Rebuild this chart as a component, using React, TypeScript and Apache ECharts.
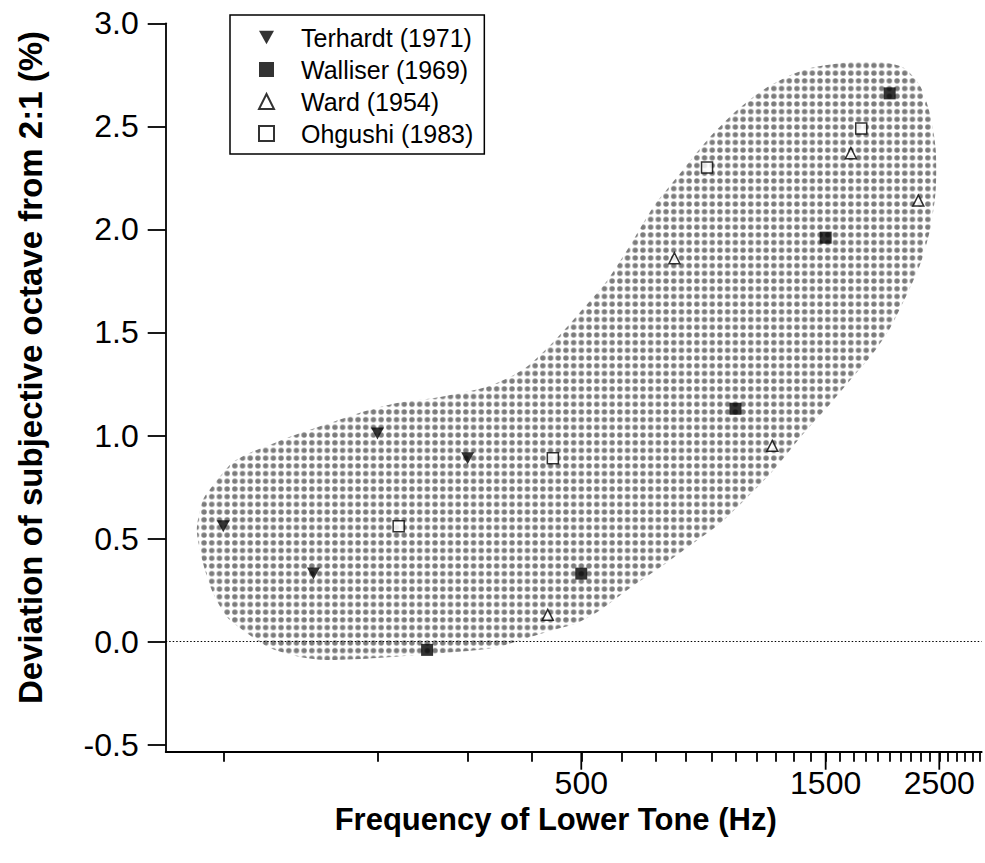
import { useEffect, useRef } from "react";
import * as echarts from "echarts";

// ---- data ----
const terhardtHz = [100, 150, 200, 300];
const terhardtDev = [0.56, 0.33, 1.01, 0.89];

const walliserHz = [250, 500, 1000, 1500, 2000];
const walliserDev = [-0.04, 0.33, 1.13, 1.96, 2.66];

const wardHz = [430, 760, 1180, 1680, 2275];
const wardDev = [0.13, 1.86, 0.95, 2.37, 2.14];

const ohgushiHz = [220, 440, 880, 1760];
const ohgushiDev = [0.56, 0.89, 2.3, 2.49];

// outline of the shaded region (Hz, deviation %)
const regionHz = [
  88.8, 91.3, 96.3, 104.0, 112.8, 127.3, 143.1, 163.9, 187.5, 218.5, 265.2, 332.0,
  388.6, 444.9, 498.0, 557.1, 615.0, 691.3, 770.1, 881.6, 1009, 1155, 1358, 1626, 1895,
  2130, 2299, 2405, 2460, 2460, 2405, 2299, 2168, 2009, 1895, 1811, 1656, 1513, 1340,
  1187, 1056, 934.8, 827.8, 713.6, 615.0, 544.8, 491.2, 455.0, 392.1, 336.6, 268.8,
  199.7, 159.5, 141.2, 123.4, 111.2, 101.7, 95.5, 91.3,
];
const regionDev = [
  0.542, 0.688, 0.77, 0.867, 0.916, 0.969, 1.017, 1.066, 1.115, 1.158, 1.187, 1.241,
  1.328, 1.464, 1.6, 1.74, 1.901, 2.109, 2.255, 2.434, 2.58, 2.691, 2.774, 2.808, 2.813,
  2.784, 2.691, 2.546, 2.386, 2.192, 2.012, 1.837, 1.692, 1.527, 1.43, 1.367, 1.255,
  1.139, 0.993, 0.833, 0.702, 0.576, 0.479, 0.362, 0.251, 0.154, 0.091, 0.066, 0.018,
  -0.031, -0.055, -0.079, -0.089, -0.074, -0.031, 0.042, 0.12, 0.236, 0.382,
];

// axes
const xMinHz = 77.2;
const xMaxHz = 3025;
const xTickHz = [
  100, 200, 300, 400, 500, 600, 700, 800, 900, 1000, 1100, 1200, 1300, 1400, 1500,
  1600, 1700, 1800, 1900, 2000, 2100, 2200, 2300, 2400, 2500, 2600, 2700, 2800, 2900, 3000,
];
const xLabelHz = [500, 1500, 2500];
const yMin = -0.534;
const yMax = 3.0;
const yTicks = [-0.5, 0, 0.5, 1.0, 1.5, 2.0, 2.5, 3.0];

const names = ["Terhardt (1971)", "Walliser (1969)", "Ward (1954)", "Ohgushi (1983)"];
const xTitle = "Frequency of Lower Tone (Hz)";
const yTitle = "Deviation of subjective octave from 2:1 (%)";

const FONT = "'Liberation Sans', Arial, Helvetica, sans-serif";
const DOWN_TRIANGLE = "path://M0,0 L10,0 L5,9 Z";

const toPts = (hz: number[], dev: number[]) => hz.map((h, i) => [Math.log10(h), dev[i]]);

function makePattern() {
  const c = document.createElement("canvas");
  c.width = 8;
  c.height = 8;
  const ctx = c.getContext("2d")!;
  ctx.fillStyle = "#7c7c7c";
  ctx.beginPath();
  ctx.arc(4, 4, 2.8, 0, Math.PI * 2);
  ctx.fill();
  return { image: c, repeat: "repeat", imageWidth: 7.7, imageHeight: 7.7 };
}

export default function App() {
  const ref = useRef<HTMLDivElement>(null);

  useEffect(() => {
    if (!ref.current) return;
    const chart = echarts.init(ref.current, undefined, { renderer: "svg" });
    const pattern = makePattern();
    const region = toPts(regionHz, regionDev);

    const axisLineStyle = { color: "#000", width: 1.8 };

    const option: any = {
      animation: false,
      backgroundColor: "#fff",
      grid: {
        left: 165.7,
        top: 23.3,
        right: 3.3,
        bottom: 111.3,
        containLabel: false,
        outerBoundsMode: "none",
      },
      legend: {
        orient: "vertical",
        left: 230,
        top: 15,
        data: names,
        itemWidth: 15,
        itemHeight: 15,
        itemGap: 7,
        padding: [10, 11, 8, 28],
        borderColor: "#000",
        borderWidth: 1.5,
        selectedMode: false,
        textStyle: {
          fontSize: 25,
          lineHeight: 25,
          color: "#000",
          fontFamily: FONT,
          padding: [0, 0, 0, 22],
        },
      },
      xAxis: {
        type: "value",
        min: Math.log10(xMinHz),
        max: Math.log10(xMaxHz),
        axisLine: { show: true, onZero: false, lineStyle: axisLineStyle },
        axisTick: {
          show: true,
          length: 10,
          customValues: xTickHz.map((v) => Math.log10(v)),
          lineStyle: axisLineStyle,
        },
        axisLabel: {
          show: true,
          customValues: xLabelHz.map((v) => Math.log10(v)),
          formatter: (v: number) => String(Math.round(Math.pow(10, v))),
          margin: 15,
          fontSize: 32,
          color: "#000",
          fontFamily: FONT,
        },
        splitLine: { show: false },
        name: xTitle,
        nameLocation: "middle",
        nameGap: 52,
        nameTextStyle: {
          fontSize: 31,
          lineHeight: 31,
          fontWeight: "bold",
          color: "#000",
          fontFamily: FONT,
          padding: [0, 36, 0, 0],
        },
      },
      yAxis: {
        type: "value",
        min: yMin,
        max: yMax,
        axisLine: { show: true, onZero: false, lineStyle: axisLineStyle },
        axisTick: { show: true, length: 18, customValues: yTicks, lineStyle: axisLineStyle },
        axisLabel: {
          customValues: yTicks,
          formatter: (v: number) => v.toFixed(1),
          margin: 27,
          fontSize: 32,
          color: "#000",
          fontFamily: FONT,
        },
        splitLine: { show: false },
        name: yTitle,
        nameLocation: "middle",
        nameRotate: 90,
        nameGap: 119,
        nameTextStyle: {
          fontSize: 33,
          lineHeight: 33,
          fontWeight: "bold",
          color: "#000",
          fontFamily: FONT,
          padding: [0, 0, 0, 40],
        },
      },
      series: [
        {
          type: "custom",
          name: "region",
          silent: true,
          z: 1,
          clip: false,
          data: [region[0]],
          renderItem: (_params: any, api: any) => {
            const pts = region.map((p) => api.coord(p));
            return {
              type: "polygon",
              shape: { points: pts, smooth: 0.25 },
              style: { fill: pattern, stroke: null },
            };
          },
        },
        {
          type: "scatter",
          name: names[0],
          z: 3,
          symbol: DOWN_TRIANGLE,
          symbolSize: [13, 12],
          itemStyle: { color: "#000" },
          data: toPts(terhardtHz, terhardtDev),
          markLine: {
            silent: true,
            symbol: ["none", "none"],
            label: { show: false },
            lineStyle: { type: [1.5, 2], color: "#000", width: 1.2 },
            data: [{ yAxis: 0 }],
          },
        },
        {
          type: "scatter",
          name: names[1],
          z: 3,
          symbol: "rect",
          symbolSize: 12,
          itemStyle: { color: "#000" },
          data: toPts(walliserHz, walliserDev),
        },
        {
          type: "scatter",
          name: names[2],
          z: 3,
          symbol: "triangle",
          symbolSize: 11,
          itemStyle: { color: "#fff", borderColor: "#000", borderWidth: 1.5 },
          data: toPts(wardHz, wardDev),
        },
        {
          type: "scatter",
          name: names[3],
          z: 3,
          symbol: "rect",
          symbolSize: 11,
          itemStyle: { color: "#fff", borderColor: "#000", borderWidth: 1.5 },
          data: toPts(ohgushiHz, ohgushiDev),
        },
      ],
    };

    chart.setOption(option);

    // longer ticks under the labelled frequencies, positioned through the x scale
    const longTicks = xLabelHz.map((h) => {
      const p = chart.convertToPixel({ gridIndex: 0 }, [Math.log10(h), yMin]) as number[];
      return {
        type: "line",
        silent: true,
        z: 100,
        shape: { x1: p[0], y1: p[1], x2: p[0], y2: p[1] + 18 },
        style: { stroke: "#000", lineWidth: 1.8 },
      };
    });
    chart.setOption({ graphic: longTicks });

    return () => chart.dispose();
  }, []);

  return (
    <div
      ref={ref}
      style={{ position: "fixed", left: 0, top: 0, width: 985, height: 863, background: "#fff" }}
    />
  );
}
